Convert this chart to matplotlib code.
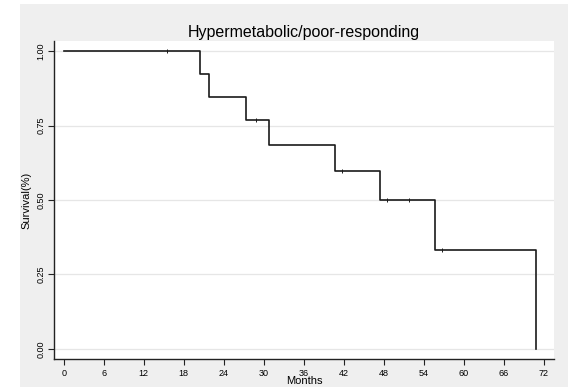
import matplotlib
matplotlib.use('Agg')
import matplotlib.pyplot as plt
from matplotlib.patches import Rectangle

plt.rcParams['font.family'] = ['Liberation Sans', 'DejaVu Sans']

# Kaplan-Meier steps
step_months = [0, 20.4, 21.8, 27.3, 30.8, 40.7, 47.4, 55.7, 70.8]
step_surv = [1.0, 0.923, 0.846, 0.769, 0.684, 0.598, 0.499, 0.333, 0.0]
# censored observations
cens_months = [15.5, 28.8, 41.7, 48.5, 51.8, 56.7]
cens_surv = [1.0, 0.769, 0.598, 0.499, 0.499, 0.333]

x_ticks = list(range(0, 73, 6))
y_ticks = [0.0, 0.25, 0.5, 0.75, 1.0]
y_ticklabels = ['0.00', '0.25', '0.50', '0.75', '1.00']

fig = plt.figure(figsize=(5.68, 3.87), dpi=100, facecolor='white')
# stata-like gray graph region
fig.add_artist(Rectangle((20 / 568, 0), 1 - 20 / 568, (387 - 4) / 387,
                         transform=fig.transFigure, facecolor='#efefef',
                         edgecolor='none', zorder=-5))

ax = fig.add_axes([54 / 568, 28 / 387, 500 / 568, 318 / 387])
ax.set_facecolor('white')

ax.step(step_months, step_surv, where='post', color='#1a1a1a', linewidth=1.2, zorder=3)
ax.plot(cens_months, cens_surv, linestyle='none', marker='|', markersize=2.5,
        color='#1a1a1a', markeredgewidth=0.7, zorder=3)

ax.set_xlim(-1.45, 73.5)
ax.set_ylim(-0.034, 1.034)
ax.set_xticks(x_ticks)
ax.set_yticks(y_ticks)
ax.set_yticklabels(y_ticklabels, rotation=90, va='center')
ax.tick_params(labelsize=6.5, length=4, width=0.8, color='#222222')
ax.tick_params(axis='x', pad=3)
ax.tick_params(axis='y', pad=2)

ax.grid(axis='y', color='#e6e6e6', linewidth=0.9)
ax.set_axisbelow(True)
for side in ['top', 'right']:
    ax.spines[side].set_visible(False)
for side in ['left', 'bottom']:
    ax.spines[side].set_linewidth(1.0)
    ax.spines[side].set_color('#222222')

ax.set_title('Hypermetabolic/poor-responding', fontsize=11.5, pad=3)
ax.set_xlabel('Months', fontsize=8, labelpad=-1)
ax.set_ylabel('Survival(%)', fontsize=8, labelpad=4)

fig.savefig('out.png', dpi=100, facecolor=fig.get_facecolor())
